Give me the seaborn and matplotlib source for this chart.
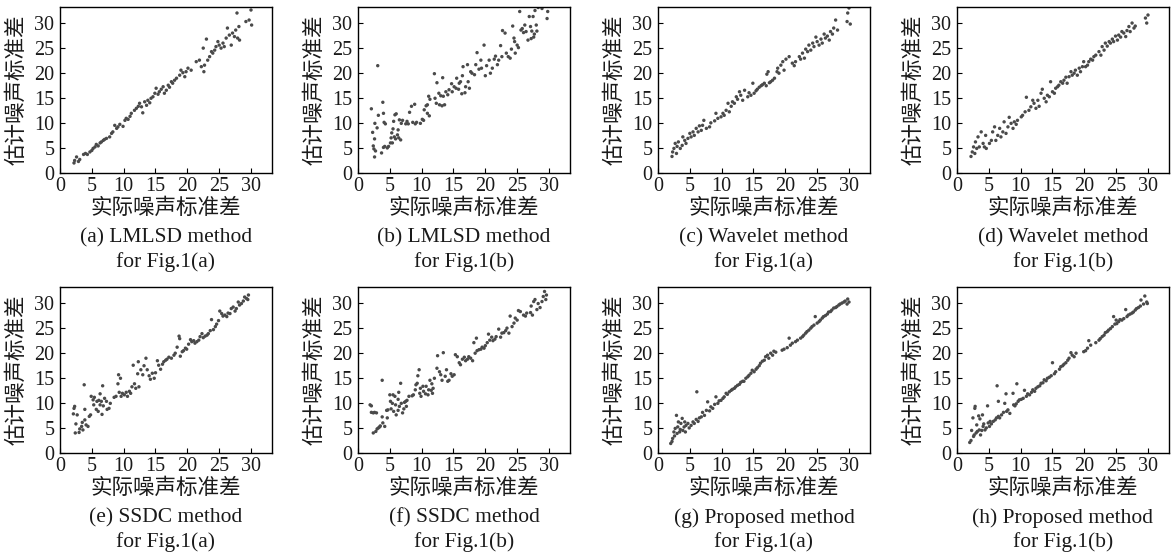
import matplotlib
matplotlib.use("Agg")
import matplotlib.pyplot as plt
import seaborn as sns
import pandas as pd

# ---------------- data ----------------
titles = ["(a) LMLSD method", "(b) LMLSD method", "(c) Wavelet method", "(d) Wavelet method",
          "(e) SSDC method", "(f) SSDC method", "(g) Proposed method", "(h) Proposed method"]
subtitles = ["for Fig.1(a)", "for Fig.1(b)", "for Fig.1(a)", "for Fig.1(b)",
             "for Fig.1(a)", "for Fig.1(b)", "for Fig.1(a)", "for Fig.1(b)"]
xlabel = "实际噪声标准差"
ylabel = "估计噪声标准差"
ticks = [0, 5, 10, 15, 20, 25, 30]

a_x = [2.2, 2.3, 2.6, 2.9, 3.1, 3.7, 4.0, 4.3, 4.7, 5.0, 5.2, 5.5, 5.7, 6.0, 6.3, 6.5, 6.8, 7.0, 7.3, 7.8,
       8.1, 8.3, 8.6, 8.9, 9.1, 9.4, 9.9, 10.2, 10.4, 10.7, 11.0, 11.2, 11.7, 12.0, 12.3, 12.5, 12.8, 13.0,
       13.3, 13.6, 13.8, 14.1, 14.3, 14.6, 14.9, 15.1, 15.4, 15.6, 15.9, 16.2, 16.4, 16.7, 17.0, 17.2, 17.5,
       17.7, 18.0, 18.3, 18.8, 19.0, 19.3, 19.6, 19.8, 20.1, 20.6, 21.4, 21.9, 22.2, 22.5, 22.6, 22.7, 23.0,
       23.2, 23.5, 23.8, 24.0, 24.3, 24.5, 24.8, 25.0, 25.3, 25.6, 25.8, 26.1, 26.3, 26.6, 26.9, 27.1, 27.4,
       27.6, 27.8, 27.9, 28.1, 28.2, 29.2, 29.7, 30.0, 30.1]
a_y = [2.0, 2.5, 3.2, 2.3, 2.7, 3.7, 3.9, 3.7, 4.2, 4.5, 4.9, 5.2, 5.7, 5.4, 6.0, 6.2, 6.5, 6.7, 6.9, 7.2,
       7.9, 8.2, 9.5, 8.9, 9.2, 9.7, 9.3, 10.5, 10.9, 10.7, 11.3, 11.9, 12.5, 12.9, 13.3, 13.9, 13.2, 12.0,
       14.2, 13.5, 14.5, 14.0, 14.9, 15.2, 15.9, 16.9, 15.7, 16.2, 16.7, 17.2, 15.9, 16.5, 17.5, 17.1, 18.2,
       17.9, 18.5, 18.9, 19.5, 20.5, 20.0, 19.2, 20.2, 20.9, 20.5, 22.2, 22.5, 21.2, 24.9, 20.2, 21.5, 26.7,
       22.5, 23.2, 24.2, 23.9, 24.5, 25.2, 26.2, 25.5, 24.9, 25.9, 25.2, 26.9, 28.9, 27.5, 25.5, 27.9, 27.2,
       28.5, 31.9, 26.9, 29.2, 26.5, 30.2, 30.5, 32.5, 29.5]

b_x = [2.1, 2.3, 2.4, 2.5, 2.6, 2.6, 2.75, 2.65, 3.0, 3.1, 3.2, 3.7, 3.9, 4.0, 4.0, 4.1, 4.3, 4.2, 4.6, 4.8,
       5.1, 5.4, 5.2, 5.3, 5.5, 5.6, 5.8, 6.0, 5.7, 5.9, 6.2, 6.4, 6.7, 6.3, 6.5, 6.8, 7.0, 7.5, 7.7, 7.9,
       8.1, 8.4, 8.9, 8.6, 9.0, 9.2, 9.8, 10.1, 10.3, 10.4, 10.7, 10.9, 10.9, 11.2, 11.1, 11.3, 12.0, 12.1,
       12.3, 12.4, 12.7, 12.8, 13.0, 13.2, 13.3, 13.4, 13.6, 13.8, 14.1, 14.3, 14.7, 14.8, 15.1, 15.4, 15.5,
       15.8, 15.9, 16.1, 16.3, 16.4, 16.5, 16.8, 16.9, 17.2, 17.3, 17.5, 17.7, 17.9, 18.3, 18.5, 18.7, 19.0,
       19.3, 19.4, 19.8, 20.0, 20.2, 20.6, 20.8, 21.1, 21.4, 21.6, 21.9, 22.1, 22.4, 22.6, 22.7, 23.1, 23.3,
       23.6, 23.9, 24.1, 24.3, 24.5, 24.6, 24.7, 25.0, 25.2, 25.4, 25.6, 25.8, 26.0, 26.2, 26.4, 26.7, 26.9,
       27.1, 27.2, 27.3, 27.5, 27.6, 27.7, 27.8, 28.0, 28.1, 28.3, 28.9, 29.7, 29.8]
b_y = [12.8, 8.1, 5.4, 4.8, 3.2, 6.8, 4.4, 9.9, 9.0, 21.4, 11.5, 4.0, 14.1, 11.9, 5.1, 10.1, 9.8, 5.3, 5.0,
       5.3, 6.0, 6.0, 7.0, 8.0, 8.8, 10.3, 11.6, 11.8, 7.2, 6.8, 7.6, 7.0, 6.6, 8.6, 10.6, 9.9, 10.5, 9.8,
       10.3, 9.8, 12.1, 13.3, 13.7, 10.1, 9.8, 10.1, 9.9, 10.7, 10.5, 12.6, 13.4, 13.6, 11.9, 11.4, 15.3,
       14.7, 19.8, 14.9, 13.9, 18.0, 15.9, 13.6, 15.4, 13.4, 19.0, 15.3, 13.6, 16.2, 15.6, 16.6, 17.8, 16.2,
       17.2, 16.9, 18.9, 16.7, 17.9, 18.2, 15.8, 19.4, 21.2, 16.0, 17.2, 21.6, 18.2, 16.9, 20.2, 19.9, 19.6,
       21.6, 24.0, 20.7, 22.5, 20.9, 25.5, 19.4, 21.4, 22.5, 19.9, 20.9, 22.7, 23.3, 21.6, 22.5, 25.4, 23.2,
       28.4, 27.9, 23.9, 23.2, 22.9, 24.7, 29.3, 26.9, 26.2, 23.9, 25.5, 25.0, 32.2, 28.5, 28.8, 28.0, 29.5,
       28.2, 26.5, 31.2, 29.2, 26.8, 28.3, 31.2, 27.1, 27.7, 32.4, 29.5, 28.3, 33.0, 32.8, 30.8, 32.2]

c_x = [2.2, 2.3, 2.5, 2.7, 2.9, 3.0, 3.2, 3.5, 3.8, 3.9, 4.2, 4.4, 4.7, 5.0, 5.2, 5.5, 5.7, 6.0, 6.3, 6.5,
       6.8, 7.0, 7.2, 7.6, 8.1, 8.3, 8.9, 9.1, 9.4, 9.9, 10.2, 10.4, 10.7, 11.0, 11.2, 11.5, 11.7, 12.0, 12.3,
       12.5, 12.8, 13.0, 13.3, 13.6, 14.1, 14.3, 14.6, 14.9, 15.1, 15.4, 15.6, 15.9, 16.2, 16.4, 16.7, 17.0,
       17.1, 17.3, 17.5, 17.7, 18.0, 18.3, 18.7, 18.8, 19.0, 19.3, 19.6, 19.8, 20.1, 20.6, 21.1, 21.4, 21.6,
       22.2, 22.4, 22.7, 23.0, 23.2, 23.5, 23.7, 24.0, 24.3, 24.5, 24.8, 25.0, 25.3, 25.6, 25.8, 26.1, 26.3,
       26.6, 26.9, 27.1, 27.4, 27.6, 27.9, 28.2, 29.7, 29.8, 30.0, 30.2]
c_y = [3.3, 4.2, 4.9, 5.9, 3.9, 5.3, 6.2, 4.9, 5.5, 7.2, 6.5, 5.9, 6.9, 7.9, 7.2, 8.2, 7.5, 8.9, 8.2, 9.4,
       8.5, 9.5, 10.5, 8.9, 9.2, 10.0, 10.4, 11.9, 10.9, 11.2, 11.9, 11.5, 12.5, 13.9, 12.2, 13.3, 14.2,
       13.9, 15.2, 14.7, 16.2, 15.5, 14.5, 16.5, 15.2, 16.0, 15.5, 17.9, 15.9, 16.4, 16.7, 17.1, 17.4, 17.6,
       17.9, 17.4, 19.7, 20.2, 18.0, 18.2, 18.5, 18.9, 20.2, 20.9, 19.9, 21.5, 22.2, 20.5, 22.7, 23.2, 21.9,
       21.4, 22.2, 23.2, 22.7, 23.9, 22.9, 24.7, 24.2, 25.5, 24.5, 25.9, 25.2, 27.1, 26.2, 25.5, 26.7, 25.9,
       27.7, 26.9, 27.3, 26.5, 28.2, 27.7, 28.9, 30.5, 28.5, 30.2, 31.9, 32.9, 29.7]

d_x = [2.2, 2.4, 2.6, 2.8, 2.9, 3.1, 3.3, 3.5, 3.8, 4.1, 4.3, 4.5, 4.6, 5.1, 5.4, 5.6, 5.9, 6.1, 6.4, 6.7,
       6.9, 7.2, 7.4, 7.7, 8.0, 8.2, 8.5, 8.8, 9.0, 9.3, 9.5, 10.1, 10.3, 10.7, 10.9, 11.3, 11.6, 11.9, 12.1,
       12.4, 12.7, 12.9, 13.2, 13.4, 13.7, 14.0, 14.2, 14.5, 14.7, 15.0, 15.3, 15.5, 15.8, 16.0, 16.3, 16.6,
       16.8, 17.1, 17.3, 17.6, 17.9, 18.1, 18.4, 18.6, 18.9, 19.2, 19.4, 19.7, 19.9, 20.2, 20.5, 20.7, 21.0,
       21.3, 21.5, 21.8, 22.3, 22.6, 22.8, 23.1, 23.3, 23.6, 23.9, 24.1, 24.4, 24.6, 24.9, 25.2, 25.4, 25.7,
       25.9, 26.2, 26.5, 26.7, 27.0, 27.2, 27.5, 27.8, 28.0, 29.6, 29.8, 30.0]
d_y = [3.3, 4.2, 5.2, 3.9, 6.2, 4.9, 7.2, 5.2, 8.2, 5.9, 5.2, 7.5, 4.9, 5.9, 6.5, 8.2, 9.2, 6.5, 7.5, 8.9,
       7.2, 8.2, 10.2, 7.9, 9.2, 11.1, 9.9, 8.9, 10.2, 9.7, 10.5, 11.2, 11.5, 12.2, 15.1, 12.5, 13.2, 14.5,
       13.9, 12.9, 14.5, 13.3, 15.9, 16.7, 14.9, 14.2, 15.5, 15.2, 18.2, 16.2, 15.9, 16.9, 17.2, 17.5, 18.2,
       17.9, 18.5, 19.1, 17.9, 19.2, 20.2, 19.5, 19.9, 20.5, 19.5, 20.9, 20.2, 21.2, 22.2, 21.2, 21.5, 22.2,
       22.7, 22.5, 23.2, 23.5, 24.2, 23.5, 25.2, 24.5, 25.9, 25.3, 26.2, 25.9, 26.7, 26.2, 27.3, 26.5, 27.5,
       27.1, 28.2, 27.9, 27.2, 28.4, 29.2, 28.2, 29.9, 28.9, 29.3, 30.9, 29.9, 31.5]

e_x = [2.1, 2.2, 2.3, 2.5, 2.7, 2.4, 3.0, 3.1, 3.4, 3.5, 3.6, 3.8, 3.9, 3.9, 4.1, 4.4, 4.6, 4.8, 4.9, 5.2,
       5.3, 5.4, 5.7, 5.8, 6.0, 6.1, 6.3, 6.3, 6.5, 6.6, 6.7, 6.8, 7.0, 7.3, 7.4, 7.7, 7.9, 8.5, 8.8, 9.1,
       9.2, 9.3, 9.5, 9.6, 9.8, 10.1, 10.4, 10.6, 10.9, 11.1, 11.3, 11.5, 11.7, 11.9, 12.2, 12.3, 12.4, 12.7,
       13.0, 13.2, 13.5, 13.7, 14.0, 14.2, 14.5, 14.8, 15.0, 15.3, 15.5, 15.8, 16.1, 16.3, 16.6, 16.8, 17.1,
       17.5, 17.9, 18.1, 18.4, 18.7, 18.8, 18.9, 19.2, 19.4, 19.7, 19.9, 20.2, 20.5, 20.7, 21.0, 21.2, 21.5,
       21.8, 22.0, 22.3, 22.5, 22.8, 23.1, 23.3, 23.6, 23.8, 24.1, 24.4, 24.6, 24.9, 25.1, 25.4, 25.6, 25.9,
       26.2, 26.4, 26.7, 26.9, 27.2, 27.5, 27.7, 28.0, 28.2, 28.5, 28.8, 29.0, 29.3, 29.5, 29.6]
e_y = [7.8, 8.9, 9.3, 5.8, 7.6, 4.0, 4.1, 4.8, 5.3, 6.1, 4.6, 13.6, 6.6, 8.7, 5.6, 5.3, 7.3, 7.6, 11.3,
       10.6, 9.6, 11.1, 8.7, 10.3, 8.3, 10.5, 9.6, 11.8, 10.3, 7.7, 13.4, 9.4, 10.9, 10.3, 8.7, 8.9, 9.9,
       11.1, 11.3, 13.8, 15.6, 12.1, 14.9, 11.3, 11.9, 11.6, 12.1, 11.3, 12.3, 11.9, 13.2, 17.5, 13.8, 12.9,
       15.8, 18.2, 13.2, 16.6, 15.6, 17.4, 18.9, 16.6, 15.4, 14.7, 15.9, 14.9, 16.0, 18.4, 17.5, 16.7, 17.7,
       18.2, 18.5, 18.7, 19.1, 18.9, 19.5, 19.9, 21.1, 23.3, 22.8, 19.3, 20.2, 20.4, 20.9, 20.7, 21.7, 22.6,
       22.2, 22.4, 21.9, 22.2, 22.5, 23.2, 23.8, 23.0, 23.3, 23.5, 23.8, 24.4, 26.6, 24.6, 25.2, 25.7, 26.4,
       28.3, 27.8, 27.3, 27.5, 27.2, 27.9, 27.8, 28.8, 29.1, 28.3, 28.8, 30.1, 29.5, 29.8, 30.3, 31.1, 30.8,
       30.6, 31.5]

f_x = [1.9, 2.1, 2.1, 2.4, 2.6, 2.9, 2.4, 2.8, 3.0, 3.2, 3.4, 3.5, 3.8, 3.9, 3.8, 4.2, 4.5, 4.6, 4.7, 5.0,
       5.1, 5.2, 5.4, 5.5, 5.6, 5.8, 5.9, 6.0, 6.3, 6.3, 6.4, 6.5, 6.7, 6.8, 7.0, 7.2, 7.3, 7.5, 7.6, 7.7,
       8.0, 8.5, 8.7, 9.0, 9.1, 9.3, 9.4, 9.6, 9.7, 9.8, 9.9, 10.2, 10.3, 10.6, 10.7, 11.0, 11.1, 11.3, 11.5,
       11.6, 11.7, 11.8, 12.0, 12.4, 12.5, 12.8, 13.0, 13.2, 13.4, 13.7, 13.9, 14.1, 14.3, 14.6, 14.8, 15.1,
       15.3, 15.6, 15.9, 16.1, 16.4, 16.7, 16.9, 17.2, 17.4, 17.7, 18.0, 18.2, 18.4, 18.6, 18.7, 19.0, 19.3,
       19.5, 19.8, 20.0, 20.3, 20.5, 20.7, 21.0, 21.2, 21.5, 21.7, 22.1, 22.4, 22.6, 22.9, 23.2, 23.4, 23.7,
       23.9, 24.2, 24.5, 24.7, 25.0, 25.2, 25.5, 26.0, 26.3, 26.5, 27.1, 27.2, 27.4, 27.6, 27.8, 28.1, 28.3,
       28.6, 28.9, 29.1, 29.3, 29.5, 29.6]
f_y = [9.6, 9.4, 8.1, 8.0, 8.1, 8.0, 4.0, 4.3, 4.8, 5.0, 5.2, 5.4, 14.5, 6.0, 7.2, 5.3, 8.5, 7.0, 8.6,
       11.6, 10.3, 8.8, 9.9, 11.6, 8.3, 11.3, 9.6, 7.6, 10.7, 8.5, 12.1, 9.3, 13.9, 9.9, 8.0, 8.8, 10.1,
       10.3, 9.3, 10.5, 11.3, 11.4, 11.6, 12.6, 13.6, 13.9, 15.4, 16.6, 11.9, 12.9, 11.3, 13.3, 12.3, 11.8,
       13.3, 11.6, 12.6, 14.5, 12.5, 13.8, 11.9, 12.9, 14.9, 16.9, 19.4, 16.2, 15.6, 14.5, 20.0, 15.3, 16.6,
       14.3, 14.5, 15.8, 15.3, 15.6, 19.6, 19.2, 18.0, 17.6, 18.7, 19.1, 18.4, 18.7, 19.2, 18.9, 18.4, 22.0,
       19.9, 22.9, 20.4, 20.6, 20.7, 21.1, 20.9, 21.4, 22.0, 23.7, 22.5, 23.1, 22.4, 22.7, 23.2, 24.7, 23.1,
       23.9, 24.0, 24.4, 24.9, 23.9, 27.3, 25.2, 25.9, 26.9, 26.5, 28.4, 28.2, 27.5, 27.3, 27.9, 28.0, 29.3,
       27.5, 30.2, 30.6, 28.6, 29.8, 29.0, 30.2, 31.2, 32.2, 30.6, 31.5]

g_x = [2.0, 2.2, 2.3, 2.5, 2.6, 2.7, 2.9, 3.0, 3.1, 3.2, 3.4, 3.5, 3.6, 3.8, 3.9, 4.1, 4.2, 4.3, 4.4, 4.7,
       4.9, 5.2, 5.5, 5.7, 6.0, 6.1, 6.3, 6.5, 6.8, 7.0, 7.3, 7.6, 7.8, 8.1, 8.3, 8.6, 8.9, 9.1, 9.4, 9.6,
       9.9, 10.2, 10.4, 10.7, 10.9, 11.2, 11.5, 11.7, 12.0, 12.2, 12.5, 12.8, 13.0, 13.3, 13.5, 13.8, 14.1,
       14.3, 14.6, 14.8, 15.1, 15.4, 15.6, 15.9, 16.1, 16.4, 16.7, 16.9, 17.2, 17.4, 17.7, 18.0, 18.2, 18.5,
       19.5, 19.8, 20.3, 20.6, 20.8, 21.1, 21.6, 21.9, 22.4, 22.7, 22.9, 23.2, 23.4, 23.7, 24.0, 24.2, 24.5,
       24.7, 25.0, 25.3, 25.5, 25.8, 26.0, 26.3, 26.6, 26.8, 27.1, 27.3, 27.6, 27.9, 28.1, 28.4, 28.6, 28.9,
       29.2, 29.4, 29.7, 29.8, 30.0]
g_y = [1.9, 2.3, 2.9, 4.2, 3.4, 4.9, 7.5, 3.9, 5.2, 6.2, 4.2, 4.7, 5.9, 6.9, 4.5, 5.2, 6.2, 4.2, 5.5, 5.9,
       5.0, 5.5, 6.2, 5.9, 6.7, 12.2, 6.3, 7.0, 7.2, 8.1, 7.5, 8.5, 10.2, 8.4, 9.2, 8.9, 9.7, 11.2, 9.9,
       10.4, 10.5, 10.9, 11.2, 11.9, 11.7, 12.2, 12.5, 12.7, 12.9, 13.2, 13.5, 13.7, 14.1, 14.3, 14.3, 14.9,
       15.2, 15.5, 15.9, 16.5, 16.2, 16.7, 17.0, 17.4, 17.9, 18.3, 18.5, 19.2, 19.5, 18.9, 19.9, 19.5, 20.3,
       20.1, 20.5, 20.7, 21.0, 22.9, 21.5, 21.9, 22.2, 22.5, 22.9, 23.2, 23.5, 23.9, 24.2, 24.5, 24.9, 25.2,
       25.5, 27.2, 25.9, 26.2, 26.5, 26.9, 27.2, 27.4, 27.7, 28.1, 28.2, 28.5, 28.9, 29.0, 29.2, 29.5, 29.7,
       29.9, 30.1, 30.3, 29.7, 30.7, 30.1]

h_x = [2.0, 2.2, 2.3, 2.5, 2.6, 2.7, 2.8, 2.85, 3.0, 3.1, 3.2, 3.4, 3.5, 3.6, 3.7, 3.9, 4.0, 4.1, 4.2, 4.4,
       4.6, 4.8, 4.9, 5.1, 5.2, 5.4, 5.7, 6.0, 6.2, 6.3, 6.5, 6.5, 6.7, 7.0, 7.3, 7.5, 7.7, 7.8, 8.0, 8.3,
       8.8, 8.9, 9.1, 9.4, 9.3, 9.6, 9.8, 10.1, 10.4, 10.6, 10.9, 11.1, 11.4, 11.7, 11.9, 12.2, 12.4, 12.7,
       13.0, 13.2, 13.5, 13.7, 14.0, 14.2, 14.5, 14.8, 15.0, 15.3, 15.5, 16.1, 16.3, 16.6, 16.8, 17.1, 17.4,
       17.6, 17.9, 18.1, 18.4, 18.7, 19.9, 20.2, 20.5, 20.7, 21.0, 21.8, 22.3, 22.5, 22.8, 23.1, 23.3, 23.6,
       23.8, 24.1, 24.4, 24.6, 24.8, 25.0, 25.1, 25.4, 25.6, 25.9, 26.2, 26.5, 26.7, 26.9, 27.2, 27.5, 27.7,
       28.0, 28.2, 28.5, 28.8, 28.9, 29.3, 29.5, 29.8, 29.9]
h_y = [2.1, 2.5, 4.5, 7.0, 3.3, 3.6, 8.9, 9.3, 4.0, 5.6, 4.3, 7.4, 4.6, 6.8, 3.6, 4.5, 7.6, 5.3, 5.8, 4.6,
       5.0, 9.4, 6.0, 5.3, 6.3, 5.8, 6.3, 6.6, 7.0, 13.4, 10.3, 7.3, 7.0, 7.6, 8.1, 9.9, 11.8, 8.3, 8.6,
       7.9, 11.9, 9.6, 9.4, 13.8, 9.8, 10.3, 10.6, 10.7, 10.9, 12.5, 11.3, 11.8, 11.6, 12.1, 12.6, 12.3, 12.9,
       13.2, 13.4, 13.9, 14.0, 14.6, 14.4, 14.9, 15.1, 15.4, 18.0, 15.8, 16.2, 16.7, 17.2, 17.4, 17.7, 18.0,
       18.5, 18.9, 20.0, 19.5, 19.2, 19.9, 20.2, 20.4, 20.9, 22.4, 21.5, 22.0, 22.5, 22.8, 23.2, 23.5, 24.0,
       24.2, 24.5, 24.8, 25.2, 27.2, 25.7, 26.5, 25.8, 26.2, 26.6, 26.5, 26.8, 28.6, 27.2, 27.5, 27.7, 27.9,
       28.1, 28.5, 28.8, 29.0, 29.3, 30.5, 29.7, 31.3, 30.1, 29.8]

xs = [a_x, b_x, c_x, d_x, e_x, f_x, g_x, h_x]
ys = [a_y, b_y, c_y, d_y, e_y, f_y, g_y, h_y]

# ---------------- style ----------------
sns.set_theme(style="ticks")
plt.rcParams["font.family"] = ["Liberation Serif", "Noto Sans CJK SC", "DejaVu Sans"]
plt.rcParams["xtick.direction"] = "in"
plt.rcParams["ytick.direction"] = "in"

W, H = 1171, 555
fig = plt.figure(figsize=(W / 100, H / 100), dpi=100)

lefts = [60, 358, 658, 957]
tops = [7, 287]
aw, ah = 212, 166
cjk = ["Noto Sans CJK SC", "DejaVu Sans"]

for i in range(8):
    r, c = divmod(i, 4)
    ax = fig.add_axes([lefts[c] / W, 1 - (tops[r] + ah) / H, aw / W, ah / H])
    df = pd.DataFrame({"x": xs[i], "y": ys[i]})
    sns.scatterplot(data=df, x="x", y="y", ax=ax, s=6, color="#4a4a4a",
                    edgecolor="none", linewidth=0, legend=False)
    ax.set_xlim(0, 33.3)
    ax.set_ylim(0, 33.1)
    ax.set_xticks(ticks)
    ax.set_yticks(ticks)
    ax.tick_params(axis="both", which="both", direction="in", length=3.5, width=0.8,
                   labelsize=14.5, colors="black", labelcolor="#1a1a1a")
    ax.tick_params(axis="x", pad=3)
    ax.tick_params(axis="y", pad=4)
    for sp in ax.spines.values():
        sp.set_visible(True)
        sp.set_color("black")
        sp.set_linewidth(1.0)
    ax.set_xlabel(xlabel, family=cjk, fontsize=15.5, color="#1a1a1a")
    ax.set_ylabel(ylabel, family=cjk, fontsize=15.5, color="#1a1a1a")
    ax.xaxis.set_label_coords(0.5, -0.21)
    ax.xaxis.label.set_va("center")
    ax.yaxis.set_label_coords(-0.205, 0.5)
    ax.yaxis.label.set_va("center")
    ax.text(0.5, -0.39, titles[i], transform=ax.transAxes, ha="center", va="center",
            fontsize=15.5, family="Liberation Serif", color="#1a1a1a")
    ax.text(0.5, -0.535, subtitles[i], transform=ax.transAxes, ha="center", va="center",
            fontsize=15.5, family="Liberation Serif", color="#1a1a1a")

fig.savefig("out.png", dpi=100, facecolor="white")
